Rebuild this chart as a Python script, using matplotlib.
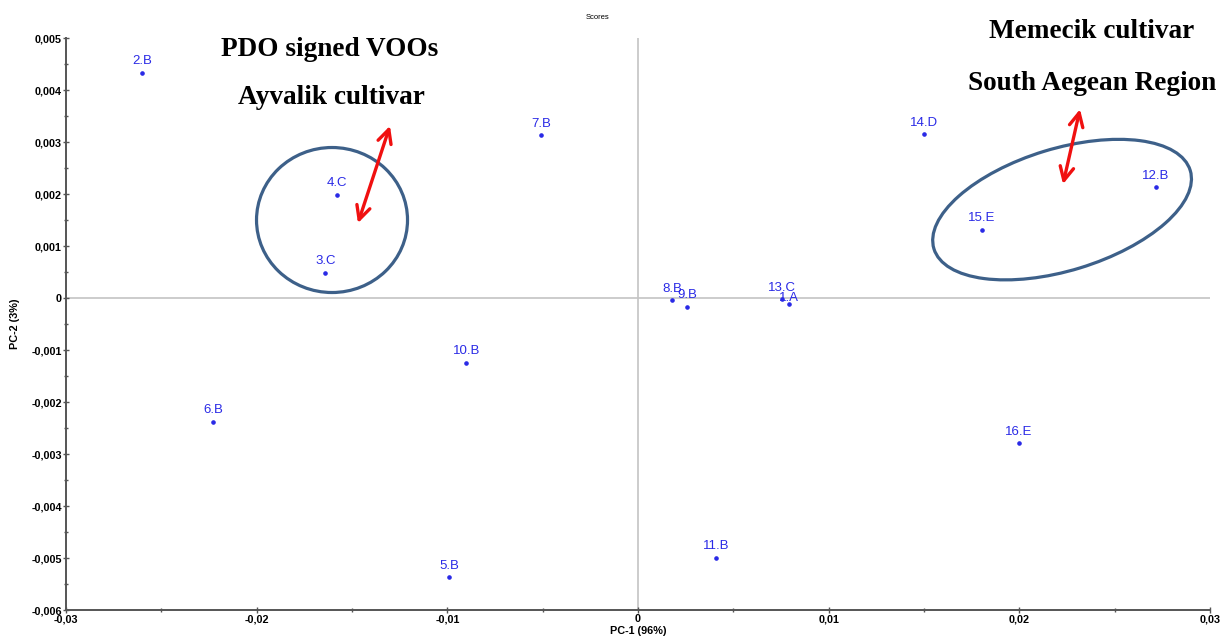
import matplotlib.pyplot as plt
from matplotlib.patches import Ellipse
from matplotlib.ticker import MultipleLocator, FuncFormatter
import matplotlib.transforms as mtransforms

# PCA scores
labels = ['1.A', '2.B', '3.C', '4.C', '5.B', '6.B', '7.B', '8.B',
          '9.B', '10.B', '11.B', '12.B', '13.C', '14.D', '15.E', '16.E']
pc1 = [0.0079, -0.0260, -0.0164, -0.0158, -0.0099, -0.0223, -0.0051, 0.00178,
       0.00257, -0.0090, 0.0041, 0.02717, 0.00755, 0.0150, 0.01804, 0.01998]
pc2 = [-0.00011, 0.00433, 0.00048, 0.00198, -0.00537, -0.00238, 0.00313, -0.00004,
       -0.00017, -0.00125, -0.0050, 0.00213, -0.00002, 0.00315, 0.00131, -0.00279]

# label offsets (points) - 1.A was pushed down to dodge 13.C
label_dy = {'1.A': 0}

BLUE = '#2a2ae6'
DARK = '#3d6089'

fig = plt.figure(figsize=(12.23, 6.42), dpi=100)
ax = fig.add_axes([0.054, 0.0498, 0.9354, 0.891])

ax.axhline(0, color='#c4c4c4', lw=1.2, zorder=0)
ax.axvline(0, color='#c4c4c4', lw=1.2, zorder=0)

ax.plot(pc1, pc2, 'o', color=BLUE, ms=2.3, ls='none', zorder=3)
for lab, x, y in zip(labels, pc1, pc2):
    ax.annotate(lab, (x, y), xytext=(0, label_dy.get(lab, 4)), textcoords='offset points',
                ha='center', va='bottom', color=BLUE, fontsize=9.5,
                family='Liberation Sans', zorder=4)

ax.set_xlim(-0.03, 0.03)
ax.set_ylim(-0.006, 0.005)

ax.xaxis.set_major_locator(MultipleLocator(0.01))
ax.xaxis.set_minor_locator(MultipleLocator(0.005))
ax.yaxis.set_major_locator(MultipleLocator(0.001))
ax.yaxis.set_minor_locator(MultipleLocator(0.0005))


def comma_fmt(v, pos):
    if abs(v) < 1e-12:
        return '0'
    s = ('%.3f' % v) if abs(v) < 0.0095 else ('%.2f' % v)
    return s.replace('.', ',')


ax.xaxis.set_major_formatter(FuncFormatter(comma_fmt))
ax.yaxis.set_major_formatter(FuncFormatter(comma_fmt))

for sp in ['top', 'right']:
    ax.spines[sp].set_visible(False)
for sp in ['left', 'bottom']:
    ax.spines[sp].set_color('#555555')
    ax.spines[sp].set_linewidth(1.4)

ax.tick_params(which='both', direction='inout', color='#555555', width=1)
ax.tick_params(which='major', length=4, labelsize=7.8, pad=1)
ax.tick_params(which='minor', length=2.5)
for t in ax.get_xticklabels() + ax.get_yticklabels():
    t.set_fontweight('bold')
    t.set_family('Liberation Sans')

ax.set_xlabel('PC-1 (96%)', fontsize=7.8, fontweight='bold', family='Liberation Sans', labelpad=1)
ax.set_ylabel('PC-2 (3%)', fontsize=7.8, fontweight='bold', family='Liberation Sans', labelpad=8)
fig.text(0.4885, 0.972, 'Scores', fontsize=5.5, ha='center', va='center', family='Liberation Sans')

# group ellipses, sized in pixels and anchored at a data point
def pixel_ellipse(cx, cy, w, h, angle):
    tr = mtransforms.Affine2D() + mtransforms.ScaledTranslation(cx, cy, ax.transData)
    e = Ellipse((0, 0), w, h, angle=angle, transform=tr, fill=False,
                edgecolor=DARK, lw=2.3, zorder=2, clip_on=False)
    ax.add_patch(e)


pixel_ellipse(-0.01605, 0.0015, 151, 145, 0)
pixel_ellipse(0.02224, 0.0017, 268, 122, 17)

arrow = dict(arrowstyle='<->, head_length=0.7, head_width=0.35', color='#f01010', lw=2.4,
             mutation_scale=14, shrinkA=0, shrinkB=0)
ax.annotate('', xy=(-0.01301, 0.00331), xytext=(-0.01469, 0.00144), arrowprops=arrow)
ax.annotate('', xy=(0.02318, 0.00363), xytext=(0.02229, 0.00219), arrowprops=arrow)

ann = dict(fontsize=19.6, fontweight='bold', family='Liberation Serif', ha='center', va='center')
fig.text(330 / 1223, 1 - 50 / 642, 'PDO signed VOOs', **ann)
fig.text(331 / 1223, 1 - 98 / 642, 'Ayvalik cultivar', **ann)
fig.text(1092 / 1223, 1 - 32 / 642, 'Memecik cultivar', **ann)
fig.text(1092 / 1223, 1 - 84 / 642, 'South Aegean Region', **ann)

fig.savefig('out.png', dpi=100)
